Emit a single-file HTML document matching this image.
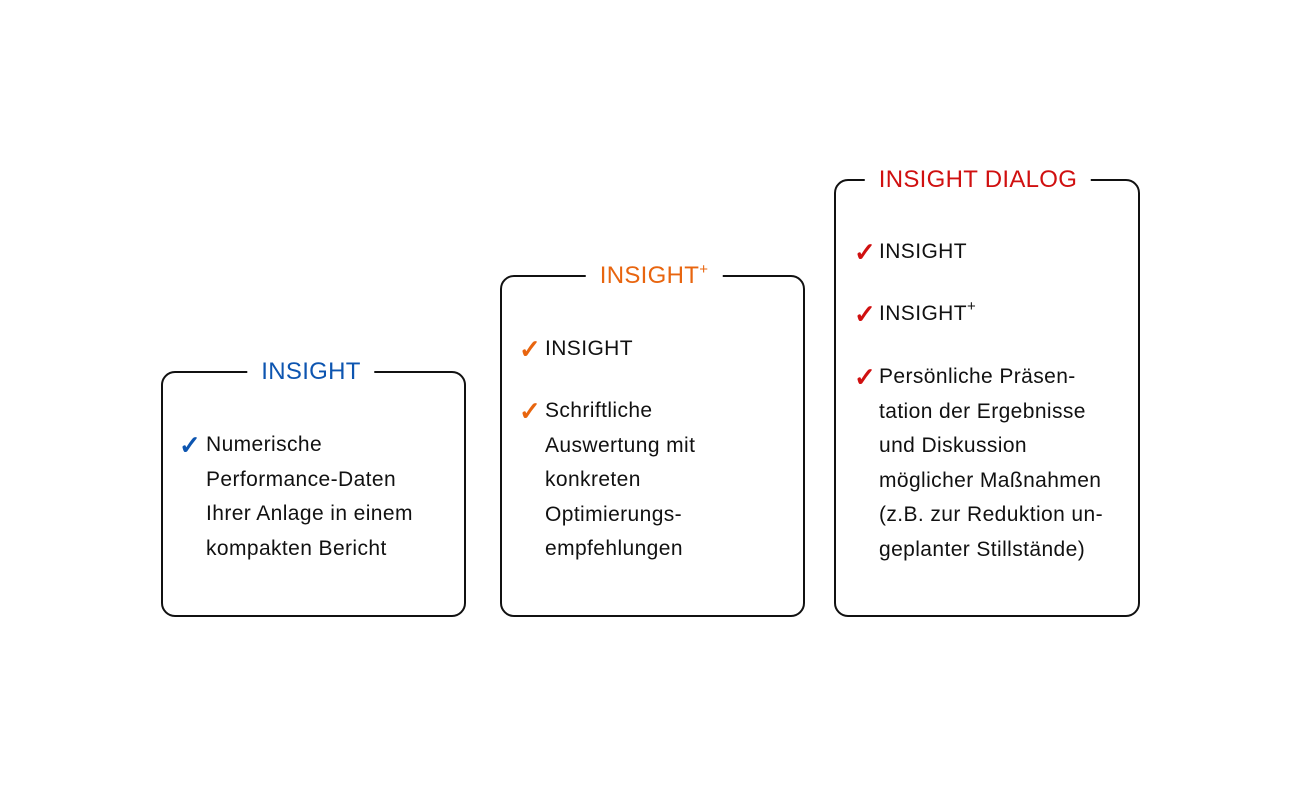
<!DOCTYPE html>
<html><head><meta charset="utf-8"><style>
body{margin:0;width:1300px;height:800px;background:#fff;position:relative;font-family:"Liberation Sans",Arial,sans-serif;overflow:hidden}
.box{position:absolute;border:2px solid #111;border-radius:14px;box-sizing:border-box}
.t{position:absolute;background:#fff;font-size:24px;line-height:30px;padding:0 14px;transform:translateX(-50%);white-space:nowrap;letter-spacing:0.3px}
.i{position:absolute;font-size:21px;line-height:34.5px;color:#111;white-space:nowrap;letter-spacing:0.4px}
.c{position:absolute;font-size:26px;line-height:34.5px;font-weight:bold}
sup{font-size:15px;line-height:0;vertical-align:9px}
</style></head><body>
<div class="box" style="left:161px;top:371px;width:305px;height:246px"></div>
<div class="t" style="left:311px;top:357px;color:#0d55b0">INSIGHT</div>
<div class="c" style="left:179px;top:428px;color:#0d55b0">✓</div>
<div class="i" style="left:206px;top:428px">Numerische<br>Performance-Daten<br>Ihrer Anlage in einem<br>kompakten Bericht</div>

<div class="box" style="left:500px;top:275px;width:305px;height:342px"></div>
<div class="t" style="left:654px;top:261px;color:#e8650f">INSIGHT<sup>+</sup></div>
<div class="c" style="left:519px;top:332px;color:#e8650f">✓</div>
<div class="i" style="left:545px;top:332px">INSIGHT</div>
<div class="c" style="left:519px;top:394px;color:#e8650f">✓</div>
<div class="i" style="left:545px;top:394px">Schriftliche<br>Auswertung mit<br>konkreten<br>Optimierungs-<br>empfehlungen</div>

<div class="box" style="left:834px;top:179px;width:306px;height:438px"></div>
<div class="t" style="left:978px;top:165px;color:#d01010">INSIGHT DIALOG</div>
<div class="c" style="left:854px;top:235px;color:#d01010">✓</div>
<div class="i" style="left:879px;top:235px">INSIGHT</div>
<div class="c" style="left:854px;top:297px;color:#d01010">✓</div>
<div class="i" style="left:879px;top:297px">INSIGHT<sup>+</sup></div>
<div class="c" style="left:854px;top:360px;color:#d01010">✓</div>
<div class="i" style="left:879px;top:360px">Persönliche Präsen-<br>tation der Ergebnisse<br>und Diskussion<br>möglicher Maßnahmen<br>(z.B. zur Reduktion un-<br>geplanter Stillstände)</div>
</body></html>
